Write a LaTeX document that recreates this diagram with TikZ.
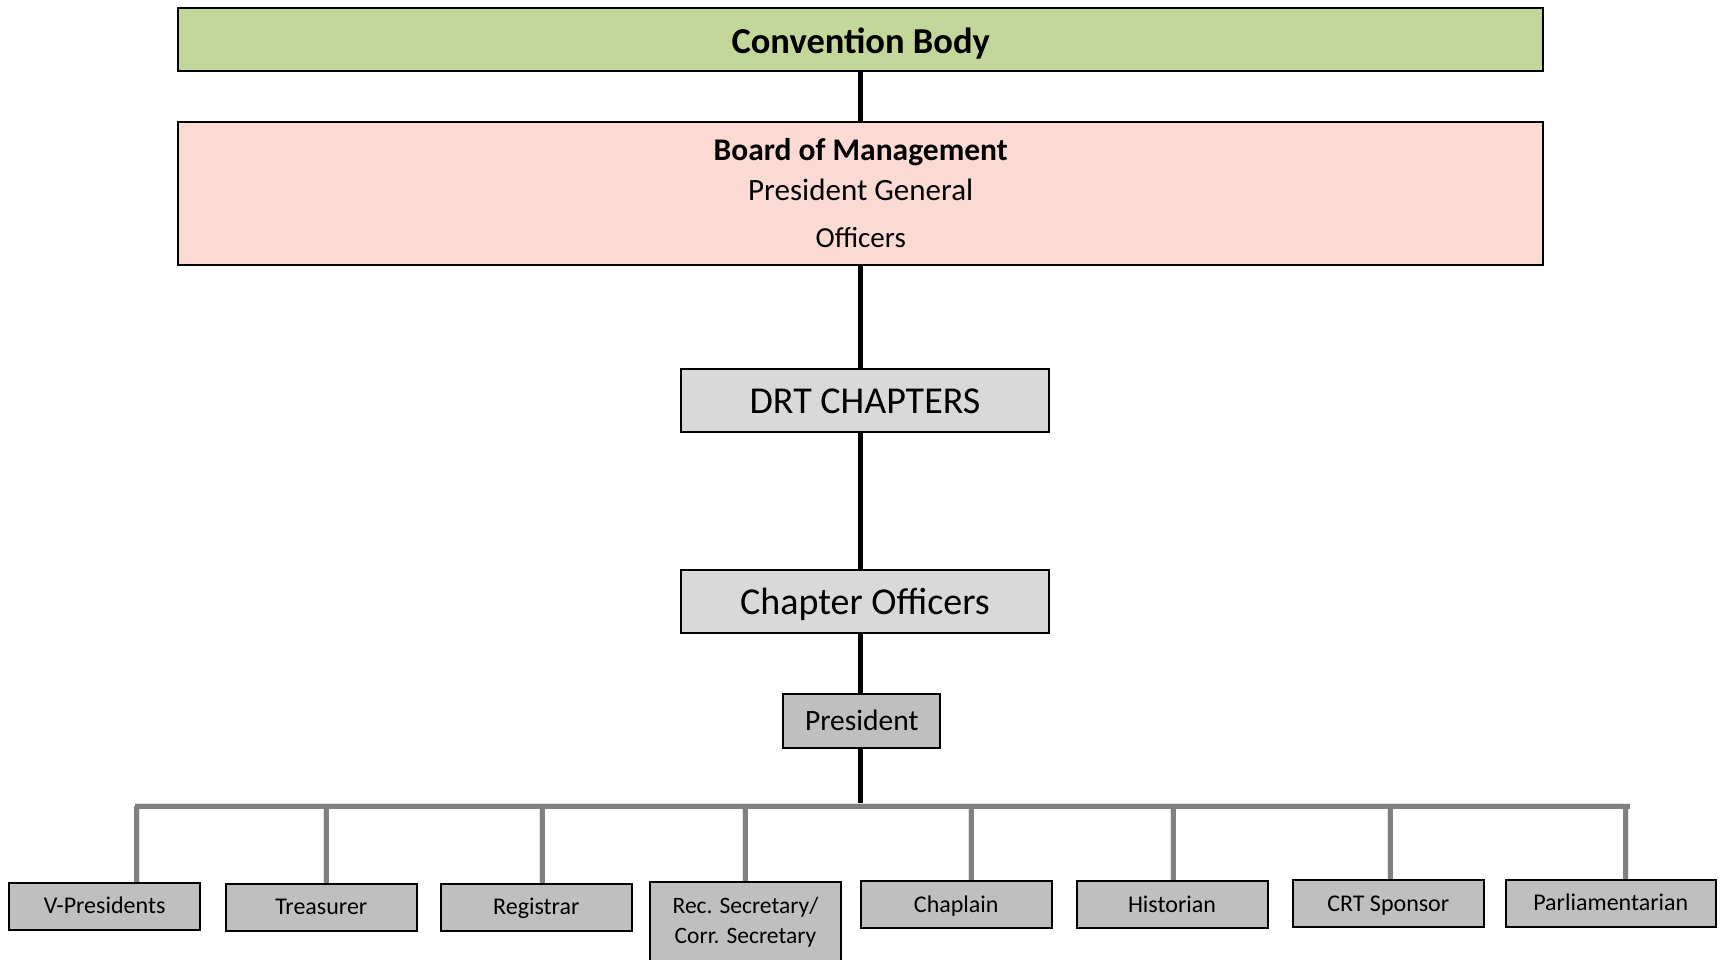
\documentclass[tikz,border=0pt]{standalone}
\usepackage{fontspec}
\setmainfont{Carlito}
\definecolor{convgreen}{HTML}{C4D79B}
\definecolor{boardpink}{HTML}{FBDAD4}
\definecolor{lightbox}{HTML}{D9D9D9}
\definecolor{midbox}{HTML}{BFBFBF}
\definecolor{connGray}{HTML}{808080}
\definecolor{shadowGray}{HTML}{E2E2E2}
\tikzset{
  box/.style={draw=black, line width=2pt, inner sep=0pt, rectangle},
  topbox/.style={box, fill=convgreen, minimum width=1365pt, minimum height=63pt,
    font=\fontsize{36.5}{42}\selectfont\bfseries, text height=27pt, text depth=0pt},
  boardbox/.style={box, fill=boardpink, minimum width=1365pt, minimum height=143pt},
  bigbox/.style={box, fill=lightbox, minimum width=368pt, minimum height=63pt,
    font=\fontsize{38}{44}\selectfont, text height=25pt, text depth=0pt},
  presbox/.style={box, fill=midbox, minimum width=157pt, minimum height=54pt,
    font=\fontsize{29.5}{34}\selectfont, text height=18.7pt, text depth=0pt},
  smallbox/.style={box, fill=midbox, minimum width=191pt, minimum height=47pt,
    font=\fontsize{24}{28}\selectfont, text height=15.3pt, text depth=0pt},
  txt/.style={inner sep=0pt, anchor=base},
  mainline/.style={draw=black, line width=5pt},
  grayline/.style={draw=connGray, line width=5pt},
  grayshadow/.style={draw=shadowGray, line width=6pt, shift={(1.5pt,-1.5pt)}},
}
\begin{document}
\begin{tikzpicture}[x=1pt, y=-1pt]
\useasboundingbox (0,0) rectangle (1719,959);
\clip (0,0) rectangle (1719,959);

% top level
\node[topbox] (conv) at (860.7,39.8) {Convention Body};
\node[boardbox] (board) at (860.7,193.2) {};
\node[txt, font=\fontsize{31.5}{36}\selectfont\bfseries] (bm) at (860.7,160) {Board of Management};
\node[txt, font=\fontsize{31}{36}\selectfont] (pg) at (860.7,200) {President General};
\node[txt, font=\fontsize{29}{34}\selectfont] (off) at (860.7,247.3) {Officers};

\node[bigbox] (drt) at (865,400.8) {DRT CHAPTERS};
\node[bigbox] (co) at (865,601.8) {Chapter Officers};
\node[presbox] (pres) at (861.7,721.2) {President};

% bottom row
\node[smallbox] (vp) at (104.7,906.2) {V-Presidents};
\node[smallbox] (tr) at (321.3,907.2) {Treasurer};
\node[smallbox] (reg) at (536.3,907.2) {Registrar};
\node[box, fill=midbox, minimum width=191pt, minimum height=92pt] (rec) at (745.5,927.7) {};
\node[inner sep=0pt, align=center, font=\fontsize{23.5}{29.5}\selectfont, anchor=north] (rectext) at (745.5,897) {Rec. Secretary/\\Corr. Secretary};
\node[smallbox] (chap) at (956.3,904.5) {Chaplain};
\node[smallbox] (hist) at (1172,904.5) {Historian};
\node[smallbox] (crt) at (1388.3,903.5) {CRT Sponsor};
\node[smallbox, minimum width=210pt] (parl) at (1610.8,903.3) {Parliamentarian};

% bar coordinates
\coordinate (barL) at (135,806);
\coordinate (barR) at (1630,806);
\coordinate (d1) at (136.7,806);
\coordinate (d2) at (326,806);
\coordinate (d3) at (542.3,806);
\coordinate (d4) at (745,806);
\coordinate (d5) at (971,806);
\coordinate (d6) at (1173.3,806);
\coordinate (d7) at (1390,806);
\coordinate (d8) at (1625.7,806);

% black spine
\draw[mainline] (conv.south) -- (board.north);
\draw[mainline] (board.south) -- (board.south |- drt.north);
\draw[mainline] (board.south |- drt.south) -- (board.south |- co.north);
\draw[mainline] (board.south |- co.south) -- (board.south |- pres.north);
\draw[mainline] (board.south |- pres.south) -- (board.south |- barL);

% gray bar and drops: soft shadow first
\begin{scope}[grayshadow]
\draw (barL) -- (barR);
\draw (d1) -- (d1 |- vp.north);
\draw (d2) -- (d2 |- tr.north);
\draw (d3) -- (d3 |- reg.north);
\draw (d4) -- (d4 |- rec.north);
\draw (d5) -- (d5 |- chap.north);
\draw (d6) -- (d6 |- hist.north);
\draw (d7) -- (d7 |- crt.north);
\draw (d8) -- (d8 |- parl.north);
\end{scope}
\draw[grayline] (barL) -- (barR);
\draw[grayline] (d1) -- (d1 |- vp.north);
\draw[grayline] (d2) -- (d2 |- tr.north);
\draw[grayline] (d3) -- (d3 |- reg.north);
\draw[grayline] (d4) -- (d4 |- rec.north);
\draw[grayline] (d5) -- (d5 |- chap.north);
\draw[grayline] (d6) -- (d6 |- hist.north);
\draw[grayline] (d7) -- (d7 |- crt.north);
\draw[grayline] (d8) -- (d8 |- parl.north);
\end{tikzpicture}
\end{document}
